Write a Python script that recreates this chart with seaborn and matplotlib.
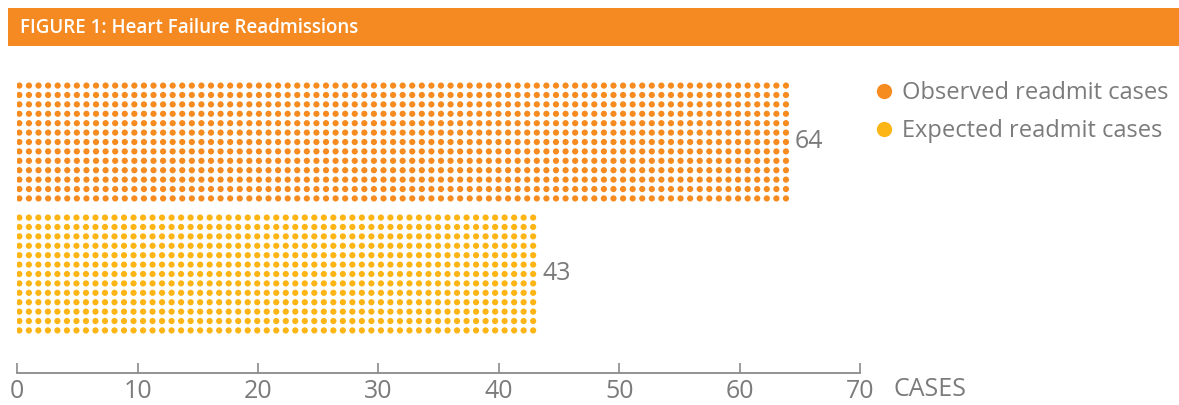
import numpy as np
import pandas as pd
import matplotlib
matplotlib.use("Agg")
import matplotlib.pyplot as plt
from matplotlib.lines import Line2D
from matplotlib.patches import Rectangle
import seaborn as sns

# ---- data ----
categories = ["Observed readmit cases", "Expected readmit cases"]
values = [64, 43]
colors = ["#F68B1F", "#FDB515"]
x_ticks = [0, 10, 20, 30, 40, 50, 60, 70]
title = "FIGURE 1: Heart Failure Readmissions"
axis_unit = "CASES"

# ---- build dot grid (texture of each bar) ----
n_rows = 13
row_span = 0.855
col_step = 0.8
recs = []
for ci, (cat, val) in enumerate(zip(categories, values)):
    n_cols = int(round(val / col_step)) + 1
    xs = np.linspace(0.17, val - 0.15, n_cols)
    ys = ci + np.linspace(-row_span / 2, row_span / 2, n_rows)
    for yy in ys:
        for xx in xs:
            recs.append((cat, xx, yy))
df = pd.DataFrame(recs, columns=["series", "x", "y"])

sns.set_theme(style="white")
plt.rcParams["font.family"] = ["Open Sans", "DejaVu Sans"]
gray = "#7b7b7b"

W, H = 1179, 405
fig = plt.figure(figsize=(W / 100, H / 100), dpi=100)
ax = fig.add_axes([17.3 / W, 1 - 373 / H, (860 - 17.3) / W, (373 - 76) / H])

sns.scatterplot(data=df, x="x", y="y", hue="series", hue_order=categories,
                palette=colors, s=20, linewidth=0, edgecolor="none",
                legend=False, ax=ax)

ax.set_xlim(0, 70)
ax.set_ylim(1.75, -0.5)
ax.set_xticks(x_ticks)
ax.set_xticklabels([str(t) for t in x_ticks])
ax.set_yticks([])
ax.set_xlabel("")
ax.set_ylabel("")
for s in ["top", "right", "left"]:
    ax.spines[s].set_visible(False)
ax.spines["bottom"].set_color("#8a8a8a")
ax.spines["bottom"].set_linewidth(1.3)
ax.tick_params(axis="x", direction="in", length=7.5, width=1.2, color="#8a8a8a",
               labelsize=18, labelcolor=gray, pad=4, bottom=True)

# value labels
for ci, val in enumerate(values):
    ax.text(val + 0.6, ci, str(val), ha="left", va="center", fontsize=18, color=gray)

# axis unit label
fig.text(893 / W, 1 - 390 / H, axis_unit, ha="left", va="center", fontsize=18, color=gray)

# header bar
fig.patches.append(Rectangle((8 / W, 1 - 46 / H), (W - 8) / W, 38 / H,
                             transform=fig.transFigure, facecolor="#F48A21",
                             edgecolor="none", zorder=0))
fig.text(20 / W, 1 - 28 / H, title, ha="left", va="center", fontsize=13.5,
         fontweight="semibold", color="white")

# legend
handles = [Line2D([], [], marker="o", linestyle="none", markersize=11,
                  markerfacecolor=c, markeredgecolor="none") for c in colors]
leg = fig.legend(handles, categories, loc="upper left",
                 bbox_to_anchor=(860 / W, 1 - 69 / H), frameon=False,
                 fontsize=17, labelcolor=gray, handletextpad=0.3,
                 labelspacing=0.62, handlelength=1.0, borderpad=0)

fig.savefig("out.png", dpi=100)
